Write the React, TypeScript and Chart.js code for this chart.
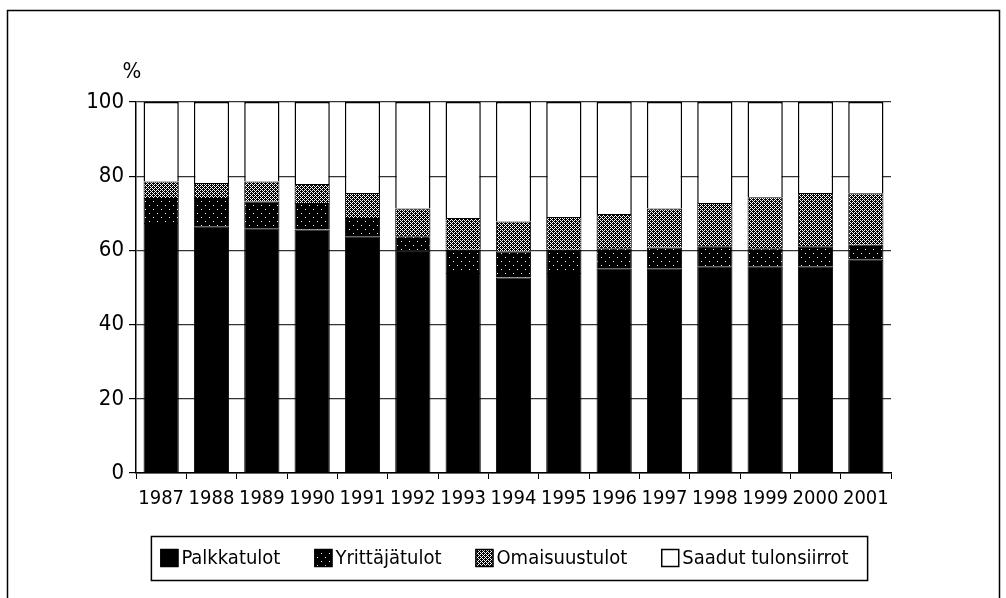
import React, { useEffect, useRef } from 'react';
import { Chart, registerables } from 'chart.js';

Chart.register(...registerables);

const categories = ['1987', '1988', '1989', '1990', '1991', '1992', '1993', '1994', '1995', '1996', '1997', '1998', '1999', '2000', '2001'];
const palkkatulot = [67.4, 66.5, 66.0, 65.6, 63.8, 59.9, 53.9, 52.7, 53.9, 55.2, 55.2, 55.7, 55.7, 55.7, 57.5];
const yrittajatulot = [6.7, 7.6, 7.2, 7.2, 4.9, 3.9, 6.3, 7.0, 6.3, 5.4, 5.6, 5.4, 4.9, 5.4, 4.0];
const omaisuustulot = [4.5, 4.1, 5.4, 5.1, 6.8, 7.5, 8.5, 8.1, 8.8, 9.2, 10.5, 11.7, 13.7, 14.4, 13.9];
const tulonsiirrot = [21.4, 21.8, 21.4, 22.1, 24.5, 28.7, 31.3, 32.2, 31.0, 30.2, 28.7, 27.2, 25.7, 24.5, 24.6];
const seriesLabels = ['Palkkatulot', 'Yrittäjätulot', 'Omaisuustulot', 'Saadut tulonsiirrot'];
const yUnit = '%';

const FONT_FAMILY = "'DejaVu Sans Condensed', 'Liberation Sans Narrow', 'Arial Narrow', sans-serif";

function makePattern(size: number, dots: Array<[number, number]>): CanvasPattern | string {
  const c = document.createElement('canvas');
  c.width = size;
  c.height = size;
  const g = c.getContext('2d');
  if (!g) return '#000';
  g.fillStyle = '#000';
  g.fillRect(0, 0, size, size);
  g.fillStyle = '#fff';
  dots.forEach(([x, y]) => g.fillRect(x, y, 1, 1));
  const p = g.createPattern(c, 'repeat');
  return p || '#000';
}

export default function App() {
  const ref = useRef<HTMLCanvasElement | null>(null);

  useEffect(() => {
    if (!ref.current) return;
    const sparse = makePattern(8, [[1, 1], [5, 5]]);
    const dense = makePattern(4, [[0, 0], [2, 0], [1, 1], [0, 2], [2, 2], [3, 3]]);

    const decor = {
      id: 'decor',
      afterDraw(chart: any) {
        const ctx = chart.ctx as CanvasRenderingContext2D;
        ctx.save();
        // outer frame
        ctx.strokeStyle = '#000';
        ctx.lineWidth = 1.5;
        ctx.beginPath();
        ctx.moveTo(7.5, 598);
        ctx.lineTo(7.5, 10.5);
        ctx.lineTo(999.5, 10.5);
        ctx.lineTo(999.5, 598);
        ctx.stroke();
        // unit label
        ctx.font = `22px ${FONT_FAMILY}`;
        ctx.fillStyle = '#000';
        ctx.textAlign = 'center';
        ctx.textBaseline = 'middle';
        ctx.fillText(yUnit, 132, 72);
        // legend
        ctx.font = `20px ${FONT_FAMILY}`;
        const box = 18;
        const gapText = 3;
        const gapItem = 34;
        const ds = chart.data.datasets;
        const widths = ds.map((d: any) => ctx.measureText(d.label).width);
        const total = widths.reduce((a: number, w: number) => a + w + box + gapText, 0) + gapItem * (ds.length - 1);
        const center = (chart.chartArea.left + chart.chartArea.right) / 2 - 9;
        let x = center - total / 2;
        const startX = x;
        const cy = 558;
        ds.forEach((d: any, i: number) => {
          ctx.fillStyle = d.backgroundColor;
          ctx.fillRect(x, cy - box / 2, box, box);
          ctx.strokeStyle = '#000';
          ctx.lineWidth = 1.5;
          ctx.strokeRect(x + 0.5, cy - box / 2 + 0.5, box - 1, box - 1);
          ctx.fillStyle = '#000';
          ctx.textAlign = 'left';
          ctx.textBaseline = 'middle';
          ctx.fillText(d.label, x + box + gapText, cy + 1);
          x += box + gapText + widths[i] + gapItem;
        });
        const endX = x - gapItem;
        ctx.lineWidth = 1.5;
        ctx.strokeStyle = '#000';
        ctx.strokeRect(startX - 9, 536.5, endX - startX + 28, 44);
        ctx.restore();
      },
    };

    const chart = new Chart(ref.current, {
      type: 'bar',
      data: {
        labels: categories,
        datasets: [
          { label: seriesLabels[0], data: palkkatulot, backgroundColor: '#000', borderColor: '#000', borderWidth: 1 },
          { label: seriesLabels[1], data: yrittajatulot, backgroundColor: sparse as any, borderColor: '#000', borderWidth: 1 },
          { label: seriesLabels[2], data: omaisuustulot, backgroundColor: dense as any, borderColor: '#000', borderWidth: 1 },
          { label: seriesLabels[3], data: tulonsiirrot, backgroundColor: '#fff', borderColor: '#000', borderWidth: 1.5 },
        ],
      },
      options: {
        responsive: false,
        animation: false,
        layout: { padding: { top: 102, right: 115, bottom: 0, left: 0 } },
        datasets: { bar: { barPercentage: 0.7, categoryPercentage: 1 } },
        plugins: { legend: { display: false }, tooltip: { enabled: false } },
        scales: {
          x: {
            stacked: true,
            afterFit: (s: any) => { s.height = 125; },
            grid: { offset: true, drawOnChartArea: false, tickLength: 6, color: '#000', tickColor: '#000' },
            border: { display: true, color: '#000', width: 1.5 },
            ticks: { color: '#000', font: { family: FONT_FAMILY, size: 20 }, maxRotation: 0, autoSkip: false, padding: 8 },
          },
          y: {
            stacked: true,
            min: 0,
            max: 100,
            afterFit: (s: any) => { s.width = 136; },
            grid: { color: '#333', tickColor: '#000', tickLength: 7, lineWidth: 1.2 },
            border: { display: true, color: '#000', width: 1.5 },
            ticks: { stepSize: 20, color: '#000', font: { family: FONT_FAMILY, size: 22 }, padding: 5 },
          },
        },
      },
      plugins: [decor],
    });
    return () => chart.destroy();
  }, []);

  return (
    <div style={{ position: 'absolute', left: 0, top: 0, width: 1006, height: 598, background: '#fff' }}>
      <canvas ref={ref} width={1006} height={598} />
    </div>
  );
}
